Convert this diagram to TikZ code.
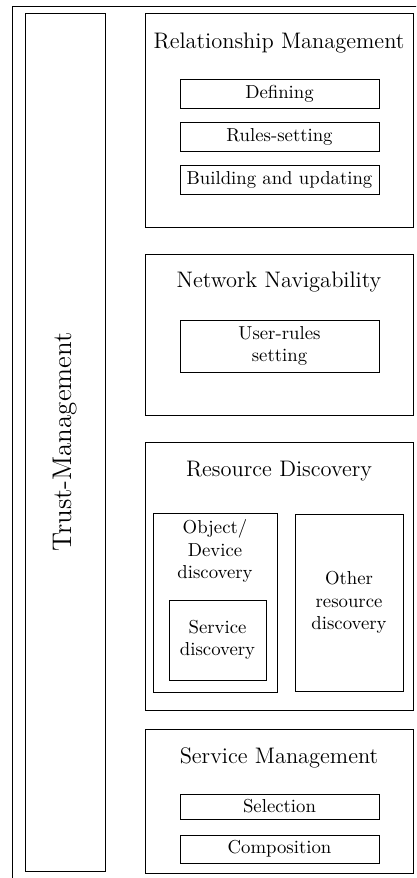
\documentclass[tikz,border=0pt]{standalone}
\usepackage{tikz}
\tikzstyle{block} = [rectangle, draw=black, inner sep=0pt]
\tikzstyle{subbox} = [rectangle, draw=black, inner sep=0pt, text centered, font=\fontsize{9.6}{11.4}\selectfont]
\tikzstyle{heading} = [inner sep=0pt, font=\fontsize{11.5}{13.8}\selectfont]
\tikzstyle{bigheading} = [inner sep=0pt, font=\fontsize{13.8}{16.6}\selectfont]
\tikzstyle{textblock} = [inner sep=0pt, align=center, font=\fontsize{9.6}{11.4}\selectfont]

\begin{document}
\begin{tikzpicture}
				\useasboundingbox (0,0) rectangle (7.488,-15.804);
				\clip (0,0) rectangle (7.488,-15.804);
				\draw (0.225,-16.5) |- (8,-0.117);
				%----------------------------------------------------%
				\node(trust) [block, minimum width=1.44cm, minimum height=15.444cm] at (1.17,-7.956) {};
				\node(trusttxt) [bigheading, rotate=90] at (trust.center) {Trust-Management};
				%----------------------------------------------------%
				\node(rel) [block, minimum width=4.824cm, minimum height=3.852cm] at (5.022,-2.16) {};
				\node(reltitle) [heading] at (5.022,-0.774) {Relationship Management};
				\node(define) [subbox, minimum width=3.582cm, minimum height=0.522cm] at (5.031,-1.683) {Defining};
				\node(rules) [subbox, minimum width=3.582cm, minimum height=0.522cm] at (5.031,-2.457) {Rules-setting};
				\node(build) [subbox, minimum width=3.582cm, minimum height=0.522cm] at (5.031,-3.231) {Building and updating};
				%----------------------------------------------------%
				\node(net) [block, minimum width=4.824cm, minimum height=2.898cm] at (5.022,-6.021) {};
				\node(nettitle) [heading] at (5.022,-5.076) {Network Navigability};
				\node(userrules) [subbox, minimum width=3.582cm, minimum height=0.936cm] at (5.031,-6.228) {};
				\node(userrulestxt) [textblock] at (userrules.center) {User-rules\\setting};
				%----------------------------------------------------%
				\node(res) [block, minimum width=4.824cm, minimum height=4.824cm] at (5.022,-10.368) {};
				\node(restitle) [heading] at (5.022,-8.478) {Resource Discovery};
				\node(objdev) [block, minimum width=2.232cm, minimum height=3.222cm] at (3.87,-10.845) {};
				\node(objdevtxt) [textblock] at (3.87,-9.918) {Object/\\Device\\discovery};
				\node(svcdisc) [block, minimum width=1.746cm, minimum height=1.44cm] at (3.915,-11.52) {};
				\node(svcdisctxt) [textblock] at (svcdisc.center) {Service\\discovery};
				\node(other) [block, minimum width=1.944cm, minimum height=3.186cm] at (6.282,-10.845) {};
				\node(othertxt) [textblock] at (other.center) {Other\\resource\\discovery};
				%----------------------------------------------------%
				\node(svcman) [block, minimum width=4.824cm, minimum height=2.592cm] at (5.022,-14.418) {};
				\node(svcmantitle) [heading] at (5.022,-13.644) {Service Management};
				\node(select) [subbox, minimum width=3.582cm, minimum height=0.45cm] at (5.031,-14.517) {Selection};
				\node(compose) [subbox, minimum width=3.582cm, minimum height=0.504cm] at (5.031,-15.282) {Composition};
			\end{tikzpicture}
\end{document}
